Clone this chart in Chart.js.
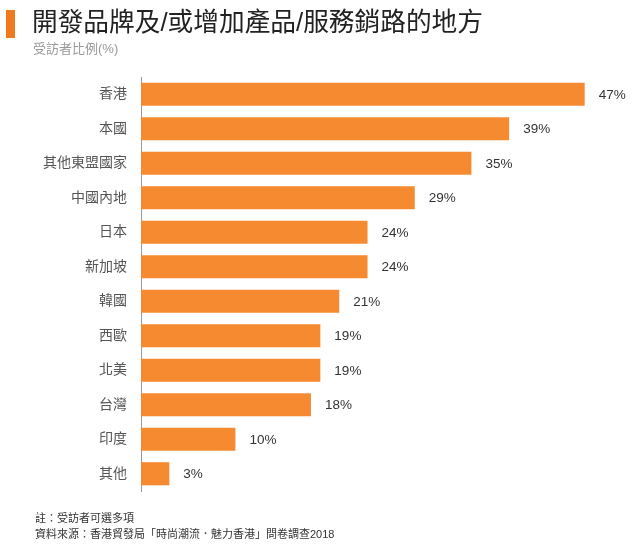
<!DOCTYPE html>
<html>
<head>
<meta charset="utf-8">
<script src="https://cdn.jsdelivr.net/npm/chart.js@4/dist/chart.umd.min.js"></script>
<style>
  html, body { margin: 0; padding: 0; background: #fff; }
  #wrap { position: relative; width: 640px; height: 551px; overflow: hidden;
          font-family: Arial, "Liberation Sans", "Noto Sans CJK TC", sans-serif; }
  #c { position: absolute; left: 0; top: 0; }
  .marker { position: absolute; left: 6px; top: 10px; width: 9px; height: 28px; background: #F07A1E; }
  .title { position: absolute; left: 32px; top: 7px; font-size: 25.7px; line-height: 30px; color: #222; white-space: nowrap; }
  .sub { position: absolute; left: 33px; top: 41px; font-size: 13px; line-height: 16px; color: #999; white-space: nowrap; }
  .note { position: absolute; left: 35px; font-size: 11px; line-height: 14px; color: #333; white-space: nowrap; }
</style>
</head>
<body>
<div id="wrap">
  <canvas id="c" width="640" height="551"></canvas>
  <div class="marker"></div>
  <div class="title">開發品牌及/或增加產品/服務銷路的地方</div>
  <div class="sub">受訪者比例(%)</div>
  <div class="note" style="top:511px">註：受訪者可選多項</div>
  <div class="note" style="top:527px">資料來源：香港貿發局「時尚潮流．魅力香港」問卷調查2018</div>
</div>
<script>
const categories = ["香港", "本國", "其他東盟國家", "中國內地", "日本", "新加坡", "韓國", "西歐", "北美", "台灣", "印度", "其他"];
const values = [47, 39, 35, 29, 24, 24, 21, 19, 19, 18, 10, 3];

const FONT = 'Arial, "Liberation Sans", "Noto Sans CJK TC", sans-serif';

const valueLabels = {
  id: 'valueLabels',
  afterDatasetsDraw(chart) {
    const ctx = chart.ctx;
    const meta = chart.getDatasetMeta(0);
    ctx.save();
    ctx.font = '13.5px ' + FONT;
    ctx.fillStyle = '#333';
    ctx.textAlign = 'left';
    ctx.textBaseline = 'middle';
    meta.data.forEach((bar, i) => {
      ctx.fillText(values[i] + '%', bar.x + 14, bar.y + 1);
    });
    ctx.restore();
  }
};

new Chart(document.getElementById('c'), {
  type: 'bar',
  data: {
    labels: categories,
    datasets: [{
      data: values,
      backgroundColor: '#F68A31',
      borderWidth: 0,
      barPercentage: 0.67,
      categoryPercentage: 1.0
    }]
  },
  options: {
    indexAxis: 'y',
    responsive: false,
    animation: false,
    devicePixelRatio: 1,
    layout: { padding: { top: 77, bottom: 60, left: 0, right: 27 } },
    plugins: { legend: { display: false }, tooltip: { enabled: false }, title: { display: false } },
    scales: {
      x: { display: false, min: 0, max: 50 },
      y: {
        afterFit(scale) { scale.width = 141; },
        grid: { display: false, drawTicks: false },
        border: { display: true, color: '#999', width: 1 },
        ticks: { padding: 14, color: '#555', font: { size: 14, family: FONT } }
      }
    }
  },
  plugins: [valueLabels]
});
</script>
</body>
</html>
